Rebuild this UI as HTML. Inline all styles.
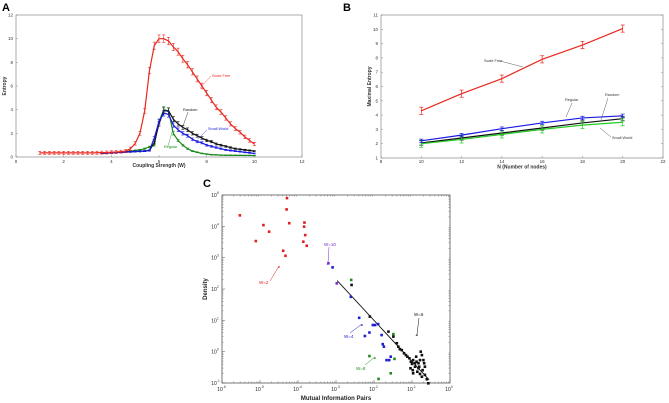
<!DOCTYPE html>
<html><head><meta charset="utf-8">
<style>
html,body{margin:0;padding:0;background:#fff;}
svg{display:block;font-family:"Liberation Sans",Arial,sans-serif;}
</style></head>
<body>
<svg id="fig" width="669" height="403" viewBox="0 0 669 403" xmlns="http://www.w3.org/2000/svg">
<text x="2" y="11" font-size="11" font-weight="bold">A</text>
<text x="343" y="11" font-size="11" font-weight="bold">B</text>
<text x="203" y="187" font-size="11" font-weight="bold">C</text>
<g id="ga"></g>
<g id="gb"></g>
<g id="gc"></g>
</svg>
<script>
// ---- Panel A data ----
const aX = [1,1.2,1.4,1.6,1.8,2,2.2,2.4,2.6,2.8,3,3.2,3.4,3.6,3.8,4,4.2,4.4,4.6,4.8,5,5.2,5.4,5.6,5.8,6,6.2,6.4,6.6,6.8,7,7.2,7.4,7.6,7.8,8,8.2,8.4,8.6,8.8,9,9.2,9.4,9.6,9.8,10];
const aRed = [0.35,0.35,0.35,0.35,0.35,0.35,0.35,0.35,0.35,0.35,0.35,0.35,0.36,0.37,0.38,0.4,0.42,0.45,0.5,0.7,1.15,2.0,3.9,7.3,9.4,10.0,10.0,9.8,9.3,8.9,8.3,7.8,7.2,6.6,6.0,5.4,4.8,4.2,3.8,3.3,2.8,2.4,2.1,1.7,1.4,1.1];
const aX2 = [3.6,3.8,4,4.2,4.4,4.6,4.8,5,5.2,5.4,5.6,5.8,6,6.2,6.4,6.6,6.8,7,7.2,7.4,7.6,7.8,8,8.2,8.4,8.6,8.8,9,9.2,9.4,9.6,9.8,10];
const aBlack = [0.32,0.34,0.36,0.38,0.4,0.42,0.44,0.46,0.48,0.5,0.55,1.2,2.8,3.9,3.9,3.2,2.8,2.5,2.3,2.0,1.8,1.6,1.4,1.3,1.1,1.0,0.9,0.8,0.7,0.65,0.6,0.55,0.5];
const aBlue = [0.32,0.34,0.36,0.38,0.4,0.42,0.44,0.46,0.48,0.5,0.55,1.6,3.0,3.7,3.6,2.7,2.3,2.0,1.8,1.5,1.3,1.2,1.0,0.9,0.8,0.7,0.6,0.55,0.5,0.45,0.4,0.35,0.3];
const aGreen = [0.32,0.34,0.36,0.4,0.42,0.46,0.5,0.55,0.6,0.7,0.85,1.0,3.0,4.0,3.9,2.0,1.4,1.0,0.7,0.5,0.4,0.3,0.25,0.2,0.18,0.16,0.15,0.15,0.14,0.14,0.13,0.13,0.12];
const aXTicks = [0,2,4,6,8,10,12];
const aYTicks = [0,2,4,6,8,10,12];
// ---- Panel B data ----
const bX = [10,12,14,16,18,20];
const bRed = [4.3,5.5,6.55,7.9,8.9,10.05];
const bBlue = [2.2,2.6,3.05,3.45,3.8,3.95];
const bBlack = [2.05,2.4,2.75,3.1,3.45,3.75];
const bGreen = [2.0,2.3,2.65,3.0,3.3,3.5];
const bXTicks = [8,10,12,14,16,18,20,22];
const bYTicks = [1,2,3,4,5,6,7,8,9,10,11];
// ---- Panel C data (log10 values) ----
const cRed = [[-5.53,4.35],[-4.91,4.04],[-4.76,3.83],[-5.11,3.53],[-4.30,4.54],[-4.23,4.10],[-3.83,4.12],[-3.84,3.99],[-3.81,3.72],[-3.86,3.51],[-3.77,3.38],[-4.39,3.22],[-4.33,3.06],[-4.29,4.9]];
const cPurple = [[-3.20,2.82],[-2.98,2.18]];
const cBlue = [[-3.09,2.69],[-2.61,1.75],[-2.39,1.08],[-2.12,0.61],[-2.24,0.50],[-2.03,0.85],[-1.97,0.85],[-1.89,0.88],[-1.80,0.53],[-1.77,0.24],[-1.74,0.16],[-1.67,-0.27],[-1.60,-0.27],[-1.56,-0.16]];
const cGreen = [[-2.60,2.29],[-1.49,0.56],[-2.12,-0.14],[-1.46,-0.23],[-1.56,-0.69],[-1.88,-0.87]];
const cBlack = [[-2.59,2.13],[-2.11,1.12],[-1.62,0.64],[-1.49,0.48],[-1.40,0.27],[-1.36,0.16],[-1.32,0.08],[-1.27,0.05],[-1.21,-0.05],[-1.16,-0.11],[-1.12,-0.16],[-1.07,-0.21],[-1.03,-0.32],[-0.97,-0.27],[-0.92,-0.37],[-0.88,-0.32],[-0.83,-0.37],[-0.79,-0.27],[-0.74,-0.11],[-0.70,-0.27],[-0.68,-0.37],[-0.66,-0.48],[-0.72,-0.59],[-0.81,-0.48],[-0.92,-0.48],[-0.98,-0.59],[-0.97,-0.69],[-0.86,-0.64],[-0.79,-0.71],[-0.74,-0.80],[-0.66,-0.74],[-0.61,-0.88],[-0.57,-1.01],[-0.77,0.0],[-0.89,-0.16],[-1.00,-0.39],[-1.04,-0.53],[-0.83,-0.53]];
const cFit = [[-2.97,2.27],[-0.55,-0.90]];
const cXTicks = [-6,-5,-4,-3,-2,-1,0];
const cYTicks = [-1,0,1,2,3,4,5];

const NS='http://www.w3.org/2000/svg';
function mk(parent,tag,attrs,txt){const e=document.createElementNS(NS,tag);for(const k in attrs)e.setAttribute(k,attrs[k]);if(txt!==undefined)e.textContent=txt;parent.appendChild(e);return e;}

// ================= Panel A =================
(function(){
  const g=document.getElementById('ga');
  const L=16,R=302,T=15,B=157;
  const sx=v=>L+(v-0)/12*(R-L), sy=v=>B-(v-0)/12*(B-T);
  const box=mk(g,'rect',{x:L,y:T,width:R-L,height:B-T,fill:'none',stroke:'#888','stroke-width':0.7});
  
  
  aXTicks.forEach(t=>{const x=sx(t);mk(g,'line',{x1:x,x2:x,y1:B,y2:B-2,stroke:'#888','stroke-width':0.5});
    const tl=mk(g,'text',{x:x,y:B+6,'font-size':4.5,'text-anchor':'middle',fill:'#333'},t);
    
    });
  aYTicks.forEach(t=>{const y=sy(t);mk(g,'line',{x1:L,x2:L+2,y1:y,y2:y,stroke:'#888','stroke-width':0.5});
    const tl=mk(g,'text',{x:L-3,y:y+1.5,'font-size':4.5,'text-anchor':'end',fill:'#333'},t);
    
    });
  const xt=mk(g,'text',{x:(L+R)/2,y:B+10,'font-size':5,'font-weight':'bold','text-anchor':'middle',fill:'#333'},'Coupling Strength (W)');
  
  
  const yt=mk(g,'text',{x:6,y:(T+B)/2,'font-size':5,'font-weight':'bold','text-anchor':'middle',fill:'#333',transform:`rotate(-90 6 ${(T+B)/2})`},'Entropy');
  
  
  function series(xs,vals,color,errA,errB,name){
    const sg=mk(g,'g',{});
    
    
    mk(sg,'polyline',{points:xs.map((x,i)=>sx(x)+','+sy(vals[i])).join(' '),fill:'none',stroke:color,'stroke-width':1.2});
    xs.forEach((x,i)=>{const err=errA+errB*vals[i];const px=sx(x),y1=sy(vals[i]+err),y2=sy(Math.max(0,vals[i]-err));
      mk(sg,'line',{x1:px,x2:px,y1:y1,y2:y2,stroke:color,'stroke-width':0.6});
      mk(sg,'line',{x1:px-1.5,x2:px+1.5,y1:y1,y2:y1,stroke:color,'stroke-width':0.6});
      mk(sg,'line',{x1:px-1.5,x2:px+1.5,y1:y2,y2:y2,stroke:color,'stroke-width':0.6});});
  }
  series(aX2,aGreen,'#1a8a1a',0.02,0.06,'a-series-regular');
  series(aX2,aBlack,'#111',0.02,0.06,'a-series-random');
  series(aX2,aBlue,'#1a1ae0',0.02,0.06,'a-series-small-world');
  series(aX,aRed,'#e8281e',0.12,0.02,'a-series-scale-free');
  function ann(tx,ty,x1,y1,x2,y2,txt,c,name){
    mk(g,'line',{x1:x1,y1:y1,x2:x2,y2:y2,stroke:c,'stroke-width':0.4});
    const t=mk(g,'text',{x:tx,y:ty,'font-size':3.8,fill:c},txt);
    
    
  }
  ann(212,77,211,76,200,88,'Scale Free','#e8281e','a-annotation-scale-free');
  ann(183,111,188,112,183,126,'Random','#111','a-annotation-random');
  ann(208,130,207,130,198,139,'Small World','#1a1ae0','a-annotation-small-world');
  ann(164,148,168,146,172,132,'Regular','#1a8a1a','a-annotation-regular');
})();

// ================= Panel B =================
(function(){
  const g=document.getElementById('gb');
  const L=381,R=663,T=15,B=158;
  const sx=v=>L+(v-8)/14*(R-L), sy=v=>B-(v-1)/10*(B-T);
  const box=mk(g,'rect',{x:L,y:T,width:R-L,height:B-T,fill:'none',stroke:'#888','stroke-width':0.7});
  
  
  bXTicks.forEach(t=>{const x=sx(t);mk(g,'line',{x1:x,x2:x,y1:B,y2:B-2,stroke:'#888','stroke-width':0.5});
    const tl=mk(g,'text',{x:x,y:B+5,'font-size':4.5,'text-anchor':'middle',fill:'#333'},t);
    
    });
  bYTicks.forEach(t=>{const y=sy(t);mk(g,'line',{x1:L,x2:L+2,y1:y,y2:y,stroke:'#888','stroke-width':0.5});
    mk(g,'line',{x1:R,x2:R-2,y1:y,y2:y,stroke:'#888','stroke-width':0.5});
    const tl=mk(g,'text',{x:L-3,y:y+1.5,'font-size':4.5,'text-anchor':'end',fill:'#333'},t);
    
    });
  const xt=mk(g,'text',{x:(L+R)/2,y:B+10.5,'font-size':5,'font-weight':'bold','text-anchor':'middle',fill:'#333'},'N (Number of nodes)');
  
  
  const yt=mk(g,'text',{x:371,y:(T+B)/2,'font-size':5,'font-weight':'bold','text-anchor':'middle',fill:'#333',transform:`rotate(-90 371 ${(T+B)/2})`},'Maximal Entropy');
  
  
  function series(vals,color,err,name){
    const sg=mk(g,'g',{});
    
    
    mk(sg,'polyline',{points:bX.map((x,i)=>sx(x)+','+sy(vals[i])).join(' '),fill:'none',stroke:color,'stroke-width':1.2});
    bX.forEach((x,i)=>{const px=sx(x),y1=sy(vals[i]+err),y2=sy(vals[i]-err);
      mk(sg,'line',{x1:px,x2:px,y1:y1,y2:y2,stroke:color,'stroke-width':0.7});
      mk(sg,'line',{x1:px-2,x2:px+2,y1:y1,y2:y1,stroke:color,'stroke-width':0.7});
      mk(sg,'line',{x1:px-2,x2:px+2,y1:y2,y2:y2,stroke:color,'stroke-width':0.7});});
  }
  series(bBlack,'#111',0.15,'b-series-random');
  series(bGreen,'#22cc22',0.25,'b-series-small-world');
  series(bBlue,'#1a1ae0',0.12,'b-series-regular');
  series(bRed,'#e8281e',0.25,'b-series-scale-free');
  function ann(tx,ty,x1,y1,x2,y2,txt,name){
    mk(g,'line',{x1:x1,y1:y1,x2:x2,y2:y2,stroke:'#333','stroke-width':0.4});
    const t=mk(g,'text',{x:tx,y:ty,'font-size':3.8,fill:'#333'},txt);
    
    
  }
  ann(484,62,500,61,523,67,'Scale Free','b-annotation-scale-free');
  ann(565,101,572,103,566,117,'Regular','b-annotation-regular');
  ann(605,96,608,98,601,120,'Random','b-annotation-random');
  ann(612,139,611,137,600,128,'Small World','b-annotation-small-world');
})();

// ================= Panel C =================
(function(){
  const g=document.getElementById('gc');
  const L=222,R=450,T=195,B=383;
  const sx=v=>L+(v+6)/6*(R-L), sy=v=>B-(v+1)/6*(B-T);
  const box=mk(g,'rect',{x:L,y:T,width:R-L,height:B-T,fill:'none',stroke:'#555','stroke-width':0.8});
  
  
  for(let d=-6;d<0;d++)for(let m=2;m<10;m++){const x=sx(d+Math.log10(m));
    mk(g,'line',{x1:x,x2:x,y1:B,y2:B-1.5,stroke:'#555','stroke-width':0.4});
    mk(g,'line',{x1:x,x2:x,y1:T,y2:T+1.5,stroke:'#555','stroke-width':0.4});}
  for(let d=-1;d<5;d++)for(let m=2;m<10;m++){const y=sy(d+Math.log10(m));
    mk(g,'line',{x1:L,x2:L+1.5,y1:y,y2:y,stroke:'#555','stroke-width':0.4});
    mk(g,'line',{x1:R,x2:R-1.5,y1:y,y2:y,stroke:'#555','stroke-width':0.4});}
  cXTicks.forEach(t=>{const x=sx(t);mk(g,'line',{x1:x,x2:x,y1:B,y2:B-3,stroke:'#555','stroke-width':0.5});
    const tl=mk(g,'text',{x:x-2,y:B+8,'font-size':5,'text-anchor':'middle',fill:'#222'},'10');
    
    
    mk(g,'text',{x:x+1,y:B+5,'font-size':3.2,fill:'#222'},String(t));});
  cYTicks.forEach(t=>{const y=sy(t);mk(g,'line',{x1:L,x2:L+3,y1:y,y2:y,stroke:'#555','stroke-width':0.5});
    const tl=mk(g,'text',{x:L-8,y:y+2,'font-size':5,'text-anchor':'middle',fill:'#222'},'10');
    
    
    mk(g,'text',{x:L-5,y:y-1,'font-size':3.2,fill:'#222'},String(t));});
  const xt=mk(g,'text',{x:(L+R)/2,y:400,'font-size':6,'font-weight':'bold','text-anchor':'middle',fill:'#222'},'Mutual Information Pairs');
  
  
  const yt=mk(g,'text',{x:207,y:(T+B)/2,'font-size':6,'font-weight':'bold','text-anchor':'middle',fill:'#222',transform:`rotate(-90 207 ${(T+B)/2})`},'Density');
  
  
  const fit=mk(g,'line',{x1:sx(cFit[0][0]),y1:sy(cFit[0][1]),x2:sx(cFit[1][0]),y2:sy(cFit[1][1]),stroke:'#111','stroke-width':0.9});
  
  
  function pts(arr,color,name){
    const sg=mk(g,'g',{});
    
    
    arr.forEach(p=>mk(sg,'rect',{x:sx(p[0])-1.3,y:sy(p[1])-1.3,width:2.6,height:2.6,fill:color}));
  }
  pts(cRed,'#e02020','c-points-w2');
  pts(cBlue,'#2020d0','c-points-w4');
  pts(cGreen,'#208a20','c-points-w8');
  pts(cBlack,'#111','c-points-w6');
  pts(cPurple,'#7a2ad0','c-points-w10');
  function ann(tx,ty,x1,y1,x2,y2,txt,c,name){
    mk(g,'line',{x1:x1,y1:y1,x2:x2,y2:y2,stroke:c,'stroke-width':0.5});
    mk(g,'polygon',{points:`${x2},${y2} ${x2-1.5},${y2+2} ${x2+1.2},${y2+1.2}`,fill:c});
    const t=mk(g,'text',{x:tx,y:ty,'font-size':4.5,fill:c},txt);
    
    
  }
  ann(259,284,270,281,279,266,'W=2','#e02020','c-annotation-w2');
  ann(324,246,329,247,328,263,'W=10','#7a2ad0','c-annotation-w10');
  ann(344,338,350,333,362,324,'W=4','#2020d0','c-annotation-w4');
  ann(356,370,365,365,375,357,'W=8','#208a20','c-annotation-w8');
  ann(414,316,419,318,417,334,'W=6','#111','c-annotation-w6');
})();
</script>
</body></html>
